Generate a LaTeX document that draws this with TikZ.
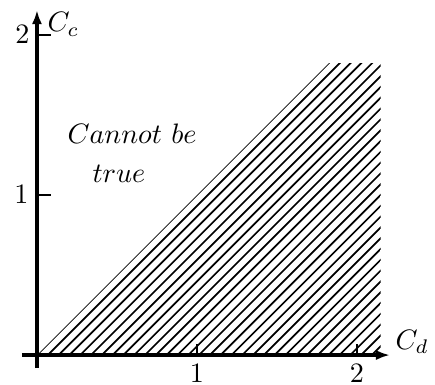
\documentclass[tikz,border=0pt]{standalone}
\usepackage{amsmath}
\usetikzlibrary{arrows.meta}

\begin{document}
\begin{tikzpicture}[
            x=2cm, y=2cm,
            >={Latex[length=5pt,width=3.6pt]},
            ax/.style    ={->, line width=1.4pt},
            tick/.style  ={line width=0.8pt},
            hatch/.style ={line width=0.6pt},
            lbl/.style   ={inner sep=0pt}
        ]
        \useasboundingbox (-0.231,-0.181) rectangle (2.4875,2.219);

        %% ---- hatched region: below the diagonal C_c = C_d ----------------------
        \begin{scope}
            \clip (0,0) -- (1.825,1.825) -- (2.148,1.825) -- (2.148,0) -- cycle;
            \foreach \d in {0,0.0675,...,2.2}
                \draw[hatch] (\d,0) -- ++(2,2);
        \end{scope}

        %% ---- axes and ticks ---------------------------------------------------
        \draw[ax] (-0.094,0) -- (2.206,0);
        \draw[ax] (0,-0.081) -- (0,2.156);
        \foreach \t in {1,2} {
            \draw[tick] (\t,0) -- ++(0,0.069);
            \draw[tick] (0,\t) -- ++(0.085,0);
        }

        % tick labels
        \node[lbl] (x1) at (1,-0.112) {$1$};
        \node[lbl] (x2) at (2,-0.112) {$2$};
        \node[lbl] (y1) at (-0.097,1.006) {$1$};
        \node[lbl] (y2) at (-0.091,2.006) {$2$};

        % axis names
        \node[lbl, anchor=base west] (Cc) at (0.0625,2.019) {$C_c$};
        \node[lbl, anchor=base west] (Cd) at (2.2375,0.0375) {$C_d$};

        %% ---- region note --------------------------------------------------------
        \node[lbl, anchor=base west] (no1) at (0.1875,1.325) {$Cannot\ be$};
        \node[lbl, anchor=base west] (no2) at (0.344,1.081) {$true$};
    \end{tikzpicture}
\end{document}
